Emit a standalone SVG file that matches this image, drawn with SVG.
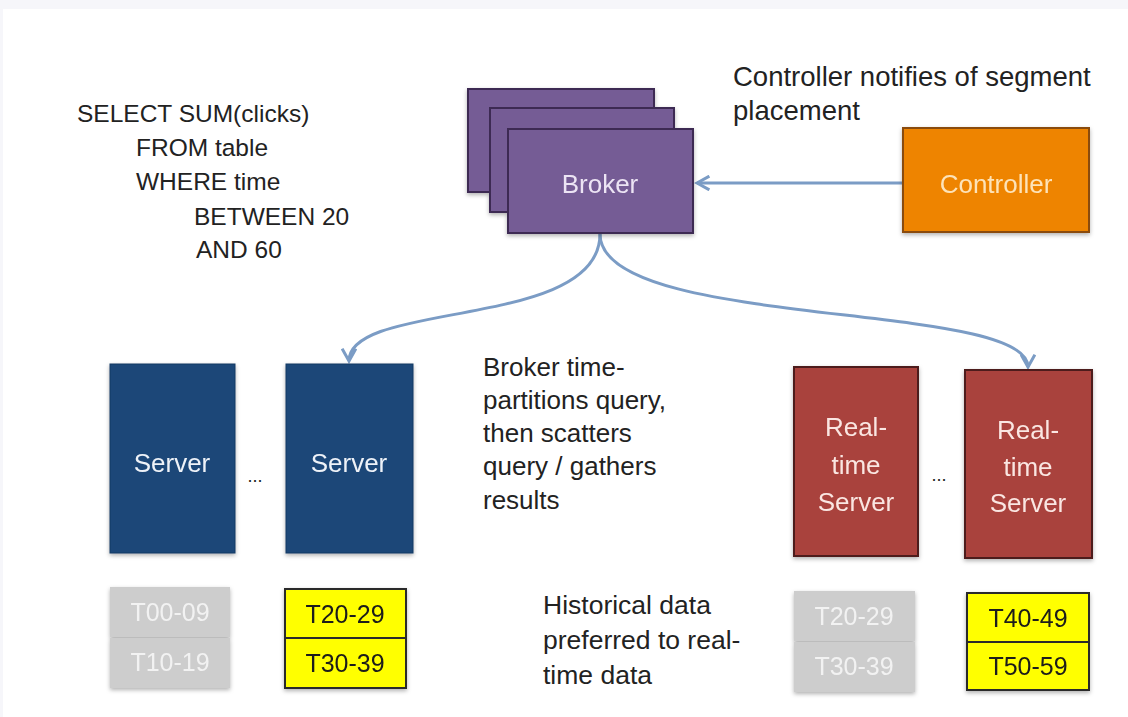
<svg xmlns="http://www.w3.org/2000/svg" width="1128" height="717" viewBox="0 0 1128 717">
<style>
text{font-family:"Liberation Sans",Arial,sans-serif;font-size:26px}
.t{fill:#222}
.c{text-anchor:middle}
.sql text{font-size:24.5px}
.cn text{font-size:27.5px}
.hn text{font-size:26.5px}
.dots{font-size:18px}
text.lbl{font-size:25px;text-anchor:middle}
.broker{fill:#755c95;stroke:#3d2c52;stroke-width:2}
.server{fill:#1c4778;stroke:#163a63;stroke-width:1}
.rt{fill:#a9423c;stroke:#4e1e1c;stroke-width:2}
.yel{fill:#ffff00;stroke:#2a2a2a;stroke-width:2}
.gray{fill:#cdcdcd}
.conn{fill:none;stroke:#7b9cc5;stroke-width:3}
</style>
<defs>
<filter id="sh" x="-10%" y="-10%" width="120%" height="130%">
<feDropShadow dx="0" dy="2" stdDeviation="2" flood-color="#000" flood-opacity="0.3"/>
</filter>
<marker id="ah" viewBox="0 0 12 12" refX="10" refY="6" markerWidth="5.5" markerHeight="5.5" orient="auto" markerUnits="strokeWidth">
<path d="M1,1 L10,6 L1,11" fill="none" stroke="#7b9cc5" stroke-width="2.2"/>
</marker>
</defs>
<rect width="1128" height="717" fill="#f6f6fa"/>
<rect x="3" y="9" width="1125" height="708" fill="#ffffff"/>

<g id="query-text" class="t sql">
<text x="77" y="122">SELECT SUM(clicks)</text>
<text x="136" y="156">FROM table</text>
<text x="136" y="190">WHERE time</text>
<text x="194" y="225">BETWEEN 20</text>
<text x="196" y="258">AND 60</text>
</g>

<g id="controller-note" class="t cn">
<text x="733" y="86">Controller notifies of segment</text>
<text x="733" y="120">placement</text>
</g>

<g id="broker-note" class="t">
<text x="483" y="376">Broker time-</text>
<text x="483" y="409">partitions query,</text>
<text x="483" y="442">then scatters</text>
<text x="483" y="475">query / gathers</text>
<text x="483" y="509">results</text>
</g>

<g id="historical-note" class="t hn">
<text x="543" y="614">Historical data</text>
<text x="543" y="649">preferred to real-</text>
<text x="543" y="684">time data</text>
</g>

<g id="connectors">
<line class="conn" x1="903" y1="183" x2="697" y2="183" marker-end="url(#ah)"/>
<path class="conn" d="M600,234 C600,330 349,300 349,361" marker-end="url(#ah)"/>
<path class="conn" d="M600,234 C600,330 1028,300 1028,367" marker-end="url(#ah)"/>
</g>

<g id="broker" filter="url(#sh)">
<rect class="broker" x="468" y="89" width="186" height="103"/>
<rect class="broker" x="490" y="108" width="184" height="104"/>
<rect class="broker" x="508" y="129" width="185" height="104"/>
<text x="600" y="193" class="c" fill="#ece4f4">Broker</text>
</g>

<g id="controller" filter="url(#sh)">
<rect x="903" y="128" width="186" height="104" fill="#ee8400" stroke="#8a4c10" stroke-width="2"/>
<text x="996" y="193" class="c" fill="#fde3b8">Controller</text>
</g>

<g id="server-1" filter="url(#sh)">
<rect class="server" x="110" y="364" width="125" height="189"/>
<text x="172" y="472" class="c" fill="#eef2f8">Server</text>
</g>
<text x="255" y="482" class="c t dots">...</text>
<g id="server-2" filter="url(#sh)">
<rect class="server" x="286" y="364" width="127" height="189"/>
<text x="349" y="472" class="c" fill="#eef2f8">Server</text>
</g>

<g id="realtime-1" filter="url(#sh)">
<rect class="rt" x="794" y="367" width="124" height="189"/>
<text x="856" y="436" class="c" fill="#fae6e2">Real-</text>
<text x="856" y="474" class="c" fill="#fae6e2">time</text>
<text x="856" y="511" class="c" fill="#fae6e2">Server</text>
</g>
<text x="939" y="481" class="c t dots">...</text>
<g id="realtime-2" filter="url(#sh)">
<rect class="rt" x="965" y="370" width="127" height="188"/>
<text x="1028" y="439" class="c" fill="#fae6e2">Real-</text>
<text x="1028" y="476" class="c" fill="#fae6e2">time</text>
<text x="1028" y="512" class="c" fill="#fae6e2">Server</text>
</g>

<g id="segments-server-1" filter="url(#sh)">
<rect class="gray" x="110" y="587" width="120" height="50"/>
<rect class="gray" x="110" y="638" width="120" height="50"/>
<text x="170" y="621" class="lbl" fill="#f2f2f2">T00-09</text>
<text x="170" y="671" class="lbl" fill="#f2f2f2">T10-19</text>
</g>
<g id="segments-server-2" filter="url(#sh)">
<rect class="yel" x="285" y="589" width="121" height="49"/>
<rect class="yel" x="285" y="638" width="121" height="50"/>
<text x="345" y="623" class="lbl" fill="#1a1a1a">T20-29</text>
<text x="345" y="672" class="lbl" fill="#1a1a1a">T30-39</text>
</g>
<g id="segments-realtime-1" filter="url(#sh)">
<rect class="gray" x="794" y="591" width="121" height="50"/>
<rect class="gray" x="794" y="642" width="121" height="50"/>
<text x="854" y="625" class="lbl" fill="#f2f2f2">T20-29</text>
<text x="854" y="675" class="lbl" fill="#f2f2f2">T30-39</text>
</g>
<g id="segments-realtime-2" filter="url(#sh)">
<rect class="yel" x="967" y="593" width="122" height="49"/>
<rect class="yel" x="967" y="642" width="122" height="48"/>
<text x="1028" y="627" class="lbl" fill="#1a1a1a">T40-49</text>
<text x="1028" y="675" class="lbl" fill="#1a1a1a">T50-59</text>
</g>
</svg>
